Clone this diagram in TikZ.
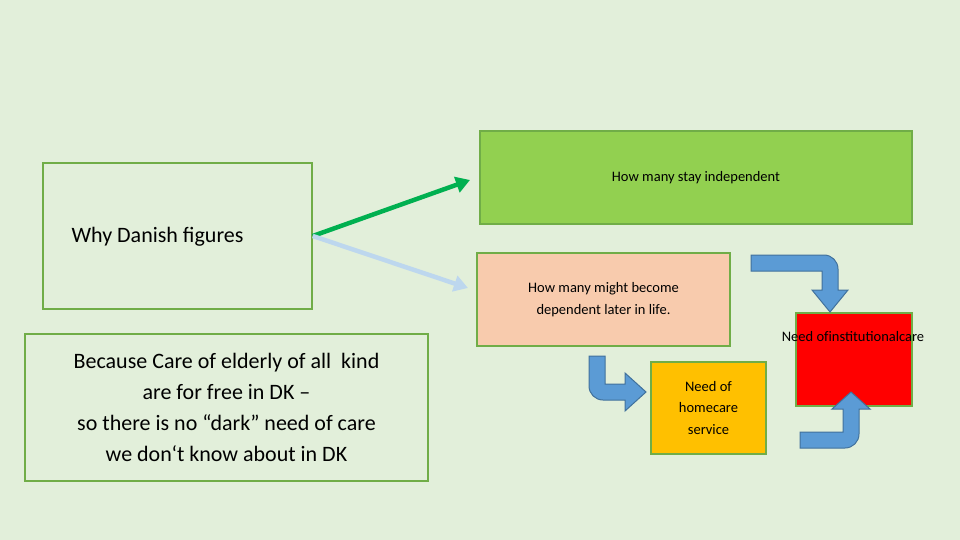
\documentclass[tikz,border=0pt]{standalone}
\usepackage{fontspec}
\setmainfont{Carlito}
\usetikzlibrary{arrows.meta}
\definecolor{bg}{HTML}{E2EFDA}
\definecolor{edge}{HTML}{70AD47}
\definecolor{gfill}{HTML}{92D050}
\definecolor{peach}{HTML}{F8CBAD}
\definecolor{gold}{HTML}{FFC000}
\definecolor{arrgreen}{HTML}{00B050}
\definecolor{lblue}{HTML}{BDD7EE}
\definecolor{bfill}{HTML}{5B9BD5}
\definecolor{bedge}{HTML}{41719C}
\tikzset{
 box/.style={draw=edge, line width=1.5pt, inner sep=0pt, align=center},
 big/.style={font=\fontsize{22}{31}\selectfont},
 small/.style={font=\fontsize{14.5}{21.5}\selectfont},
 bent/.style={fill=bfill, draw=bedge, line width=1pt},
}
\begin{document}
\begin{tikzpicture}[x=1pt,y=-1pt]
\fill[bg] (0,0) rectangle (960,540);
\useasboundingbox (0,0) rectangle (960,540);
\node[box, fill=bg, minimum width=269pt, minimum height=146pt] (why) at (177.5,236) {};
\node[big, anchor=west] (whyt) at (68,237) {Why Danish figures};
\node[box, fill=bg, big, minimum width=403pt, minimum height=147pt] (because) at (226.5,407.5)
 {Because Care of elderly of all\ \ kind\\are for free in DK –\\so there is no “dark” need of care\\we don`t know about in DK};
\node[box, fill=gfill, small, minimum width=432pt, minimum height=93pt] (indep) at (696,177.5) {How many stay independent};
\node[box, fill=peach, small, minimum width=253pt, minimum height=93pt] (dep) at (603.5,299.5) {How many might become\\dependent later in life.};
\node[box, fill=gold, small, minimum width=115pt, minimum height=92pt] (home) at (708.5,408) {Need of\\homecare\\service};
\node[box, fill=red, minimum width=116pt, minimum height=93pt] (inst) at (854,359.5) {};
\node[small, anchor=north] (instt) at (853,328) {Need of\\institutional\\care};
\coordinate (g1) at (470,180);
\coordinate (b1) at (468,288);
\draw[arrgreen, line width=4.5pt, -{Triangle[length=14pt,width=16pt]}] (why.east) -- (g1);
\draw[lblue, line width=4.5pt, -{Triangle[length=14pt,width=16pt]}] (why.east) -- (b1);
\draw[bent] (751,255) [rounded corners=14pt] -- (838,255) [sharp corners] -- (838,290) -- (848,290) -- (830,312) -- (812,290) -- (822,290) -- (822,271) -- (751,271) -- cycle;
\draw[bent] (589,356) [rounded corners=14pt] -- (589,400) [sharp corners] -- (625,400) -- (625,411) -- (646,392) -- (625,373) -- (625,384) -- (605,384) -- (605,356) -- cycle;
\draw[bent] (800,448) [rounded corners=14pt] -- (859,448) [sharp corners] -- (859,409) -- (870,409) -- (851,392) -- (832,409) -- (843,409) -- (843,432) -- (800,432) -- cycle;
\end{tikzpicture}
\end{document}
